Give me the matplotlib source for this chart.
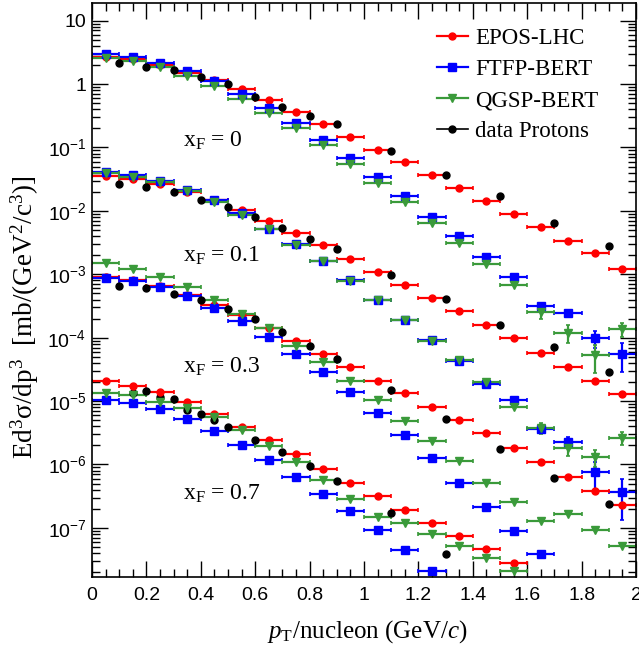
import numpy as np
import matplotlib.pyplot as plt
from matplotlib.lines import Line2D
from matplotlib.ticker import MultipleLocator, LogLocator, FuncFormatter, NullFormatter

plt.rcParams['font.family'] = 'Liberation Serif'
plt.rcParams['mathtext.fontset'] = 'custom'
plt.rcParams['mathtext.rm'] = 'Liberation Serif'
plt.rcParams['mathtext.it'] = 'Liberation Serif:italic'
plt.rcParams['mathtext.sf'] = 'Liberation Sans'

nan = np.nan

# pT/nucleon bin centres (bins are 0.1 GeV/c wide)
pt_bins = [0.05, 0.15, 0.25, 0.35, 0.45, 0.55, 0.65, 0.75, 0.85, 0.95,
           1.05, 1.15, 1.25, 1.35, 1.45, 1.55, 1.65, 1.75, 1.85, 1.95]
bin_half_width = 0.05

# ---- x_F = 0 ----
epos_xf0 = [2.70, 2.46, 2.00, 1.51, 1.15, 0.828, 0.555, 0.363, 0.235, 0.148,
            0.0923, 0.0585, 0.0372, 0.0227, 0.0142, 0.00904, 0.00557, 0.00332, 0.00214, 0.00121]
ftfp_xf0 = [2.98, 2.65, 2.13, 1.61, 1.12, 0.706, 0.415, 0.241, 0.131, 0.0683,
            0.0343, 0.0172, 0.00811, 0.00402, 0.00185, 0.000897, 0.000316, 0.000248, 9.8e-5, 5.6e-5]
qgsp_xf0 = [2.55, 2.34, 1.84, 1.36, 0.944, 0.582, 0.346, 0.201, 0.108, 0.0555,
            0.0279, 0.0138, 0.00637, 0.00308, 0.00144, 0.000678, 0.000254, 0.00012, 5.27e-5, 0.000136]
ftfp_relerr_xf0 = [0] * 16 + [0.05, 0.06, 0.31, 0.48]
qgsp_relerr_xf0 = [0] * 16 + [0.22, 0.31, 0.48, 0.24]
data_pt_xf0 = [0.1, 0.2, 0.3, 0.4, 0.5, 0.6, 0.7, 0.8, 0.9, 1.1, 1.3, 1.5, 1.7, 1.9]
data_xf0 = [2.13, 1.84, 1.65, 1.28, 0.993, 0.633, 0.440, 0.314, 0.232,
            0.0891, 0.0368, 0.0172, 0.00637, 0.00283]

# ---- x_F = 0.1 ----
epos_xf01 = [0.0359, 0.0315, 0.0263, 0.0201, 0.0149, 0.0103, 0.00693, 0.00444, 0.00286, 0.00175,
             0.0011, 0.000685, 0.000428, 0.000264, 0.000157, 9.9e-5, 5.8e-5, 3.41e-5, 2.05e-5, 1.28e-5]
ftfp_xf01 = [0.0406, 0.0368, 0.0296, 0.0214, 0.0147, 0.0091, 0.00519, 0.00297, 0.00162, 0.000804,
             0.000397, 0.00019, 9.1e-5, 4.29e-5, 1.86e-5, 1.04e-5, 3.63e-6, 2.29e-6, 7.5e-7, 3.65e-7]
qgsp_xf01 = [0.0400, 0.0346, 0.0289, 0.0204, 0.0137, 0.00861, 0.00512, 0.00293, 0.00160, 0.000795,
             0.000392, 0.000188, 9.0e-5, 4.37e-5, 2.02e-5, 8.2e-6, 3.72e-6, 1.80e-6, 1.30e-6, 2.65e-6]
ftfp_relerr_xf01 = [0] * 16 + [0.06, 0.17, 0.45, 0.64]
qgsp_relerr_xf01 = [0] * 16 + [0.20, 0.24, 0.29, 0.23]
data_pt_xf01 = [0.1, 0.2, 0.3, 0.4, 0.5, 0.6, 0.7, 0.8, 0.9, 1.1, 1.3, 1.5, 1.7, 1.9]
data_xf01 = [0.0263, 0.0236, 0.0196, 0.0149, 0.0116, 0.00802, 0.00532, 0.00365, 0.00255,
             0.000975, 0.000407, 0.000158, 7.06e-5, 2.91e-5]

# ---- x_F = 0.3 ----
epos_xf03 = [0.000916, 0.000813, 0.000653, 0.000467, 0.000324, 0.000228, 0.000141, 8.97e-5, 5.53e-5, 3.45e-5,
             2.1e-5, 1.32e-5, 8.2e-6, 4.94e-6, 3.1e-6, 1.8e-6, 1.08e-6, 6.4e-7, 3.86e-7, 2.3e-7]
ftfp_xf03 = [0.000883, 0.000784, 0.000624, 0.00045, 0.000297, 0.000182, 0.000101, 5.53e-5, 2.85e-5, 1.38e-5,
             6.43e-6, 2.92e-6, 1.25e-6, 5.1e-7, 2.16e-7, 9.0e-8, 3.92e-8, nan, nan, nan]
qgsp_xf03 = [0.00149, 0.00121, 0.000916, 0.000637, 0.000394, 0.000239, 0.000141, 7.48e-5, 4.14e-5, 2.1e-5,
             1.03e-5, 4.91e-6, 2.32e-6, 1.14e-6, 5.05e-7, 2.56e-7, 1.28e-7, 1.64e-7, 9.4e-8, 5.24e-8]
data_pt_xf03 = [0.1, 0.2, 0.3, 0.4, 0.5, 0.6, 0.7, 0.8, 0.9, 1.1, 1.3, 1.5, 1.7, 1.9]
data_xf03 = [0.000661, 0.000601, 0.000489, 0.000394, 0.000281, 0.000197, 0.000122, 7.48e-5, 4.56e-5,
             1.51e-5, 5.16e-6, 1.74e-6, 6.19e-7, 2.38e-7]

# ---- x_F = 0.7 ----
epos_xf07 = [2.11e-5, 1.73e-5, 1.38e-5, 9.6e-6, 6.19e-6, 3.86e-6, 2.41e-6, 1.47e-6, 8.5e-7, 5.05e-7,
             3.15e-7, 1.94e-7, 1.18e-7, 7.45e-8, 4.6e-8, 2.77e-8, nan, nan, nan, nan]
ftfp_xf07 = [1.04e-5, 9.2e-6, 7.43e-6, 5.22e-6, 3.41e-6, 2.03e-6, 1.18e-6, 6.4e-7, 3.46e-7, 1.86e-7,
             9.3e-8, 4.48e-8, 2.09e-8, nan, nan, nan, nan, nan, nan, nan]
qgsp_xf07 = [1.33e-5, 1.25e-5, 9.8e-6, 7.7e-6, 5.55e-6, 3.5e-6, 1.98e-6, 1.11e-6, 5.7e-7, 2.86e-7,
             1.47e-7, 1.21e-7, 8.0e-8, 5.24e-8, 3.35e-8, 2.11e-8, nan, nan, nan, nan]
data_pt_xf07 = [0.15, 0.2, 0.25, 0.3, 0.35, 0.4, 0.45, 0.5, 0.6, 0.7, 0.8, 0.9, 1.1, 1.3]
data_xf07 = [1.36e-5, 1.44e-5, 1.17e-5, 1.07e-5, 7.24e-6, 6.19e-6, 4.94e-6, 3.86e-6, 2.43e-6,
             1.56e-6, 9.6e-7, 5.55e-7, 1.74e-7, 3.92e-8]

xf_labels = ['0', '0.1', '0.3', '0.7']
xf_label_y = [0.103, 1.58e-3, 2.8e-5, 2.83e-7]

panels = [
    (epos_xf0, ftfp_xf0, qgsp_xf0, ftfp_relerr_xf0, qgsp_relerr_xf0, data_pt_xf0, data_xf0),
    (epos_xf01, ftfp_xf01, qgsp_xf01, ftfp_relerr_xf01, qgsp_relerr_xf01, data_pt_xf01, data_xf01),
    (epos_xf03, ftfp_xf03, qgsp_xf03, None, None, data_pt_xf03, data_xf03),
    (epos_xf07, ftfp_xf07, qgsp_xf07, None, None, data_pt_xf07, data_xf07),
]

c_epos, c_ftfp, c_qgsp = '#ff0000', '#0000ff', '#3a9a3a'

fig = plt.figure(figsize=(6.39, 6.51), dpi=100)
ax = fig.add_axes([92 / 639, 74 / 651, 544 / 639, 574 / 651])

err_kw = dict(linestyle='none', elinewidth=1.6, capsize=1.6, capthick=1.2)
for epos, ftfp, qgsp, ftfp_rel, qgsp_rel, dpt, dval in panels:
    ax.errorbar(pt_bins, epos, xerr=bin_half_width, fmt='o', color=c_epos, ms=5, **err_kw)
    ftfp_err = None if ftfp_rel is None else np.array(ftfp_rel) * np.array(ftfp)
    ax.errorbar(pt_bins, ftfp, xerr=bin_half_width, yerr=ftfp_err, fmt='s', color=c_ftfp, ms=5.2, **err_kw)
    qgsp_err = None if qgsp_rel is None else np.array(qgsp_rel) * np.array(qgsp)
    ax.errorbar(pt_bins, qgsp, xerr=bin_half_width, yerr=qgsp_err, fmt='v', color=c_qgsp, ms=5.5, **err_kw)
    ax.plot(dpt, dval, 'o', color='black', ms=5, linestyle='none')

for lab, y in zip(xf_labels, xf_label_y):
    ax.text(0.333, y, r'x$_{\mathrm{F}}$ = ' + lab, fontsize=17, va='baseline', ha='left')

ax.set_xlim(0, 2)
ax.set_yscale('log')
ax.set_ylim(1.68e-8, 19)

ax.xaxis.set_major_locator(MultipleLocator(0.2))
ax.xaxis.set_minor_locator(MultipleLocator(0.05))
ax.xaxis.set_major_formatter(FuncFormatter(lambda v, _: f'{v:g}'))
ax.yaxis.set_major_locator(LogLocator(base=10, numticks=20))
ax.yaxis.set_minor_locator(LogLocator(base=10, subs=np.arange(2, 10), numticks=20))
ax.yaxis.set_minor_formatter(NullFormatter())


def yfmt(v, _):
    e = int(round(np.log10(v)))
    if e == 1:
        return '10'
    if e == 0:
        return '1'
    return r'$\mathsf{10^{%d}}$' % e


ax.yaxis.set_major_formatter(FuncFormatter(yfmt))
ax.tick_params(which='both', direction='in', top=True, right=True, width=1,
               labelsize=14, labelfontfamily='Liberation Sans')
ax.tick_params(which='major', length=11.5)
ax.tick_params(which='minor', length=5.5)
ax.tick_params(axis='x', pad=7)
ax.tick_params(axis='y', pad=4)
for s in ax.spines.values():
    s.set_linewidth(1.2)

ax.set_xlabel(r'$p_{\mathrm{T}}$/nucleon (GeV/$c$)', fontsize=18, va='top')
ax.xaxis.set_label_coords(0.5055, -0.072)
ax.set_ylabel(r'Ed$^{3}$σ/dp$^{3}$  [mb/(GeV$^{2}$/c$^{3}$)]', fontsize=19.5)
ax.yaxis.set_label_coords(-0.093, 0.453)

handles = [
    Line2D([0], [0], color=c_epos, marker='o', ms=5, lw=1.6),
    Line2D([0], [0], color=c_ftfp, marker='s', ms=5.2, lw=1.6),
    Line2D([0], [0], color=c_qgsp, marker='v', ms=5.5, lw=1.6),
    Line2D([0], [0], color='black', marker='o', ms=5, lw=1.2),
]
ax.legend(handles, ['EPOS-LHC', 'FTFP-BERT', 'QGSP-BERT', 'data Protons'],
          loc='upper left', bbox_to_anchor=(437 / 639, 1 - 28 / 651), bbox_transform=fig.transFigure,
          frameon=False, fontsize=16.5, handlelength=1.35, handletextpad=0.3,
          labelspacing=0.44, borderpad=0, borderaxespad=0)

fig.savefig('out.png', dpi=100)
